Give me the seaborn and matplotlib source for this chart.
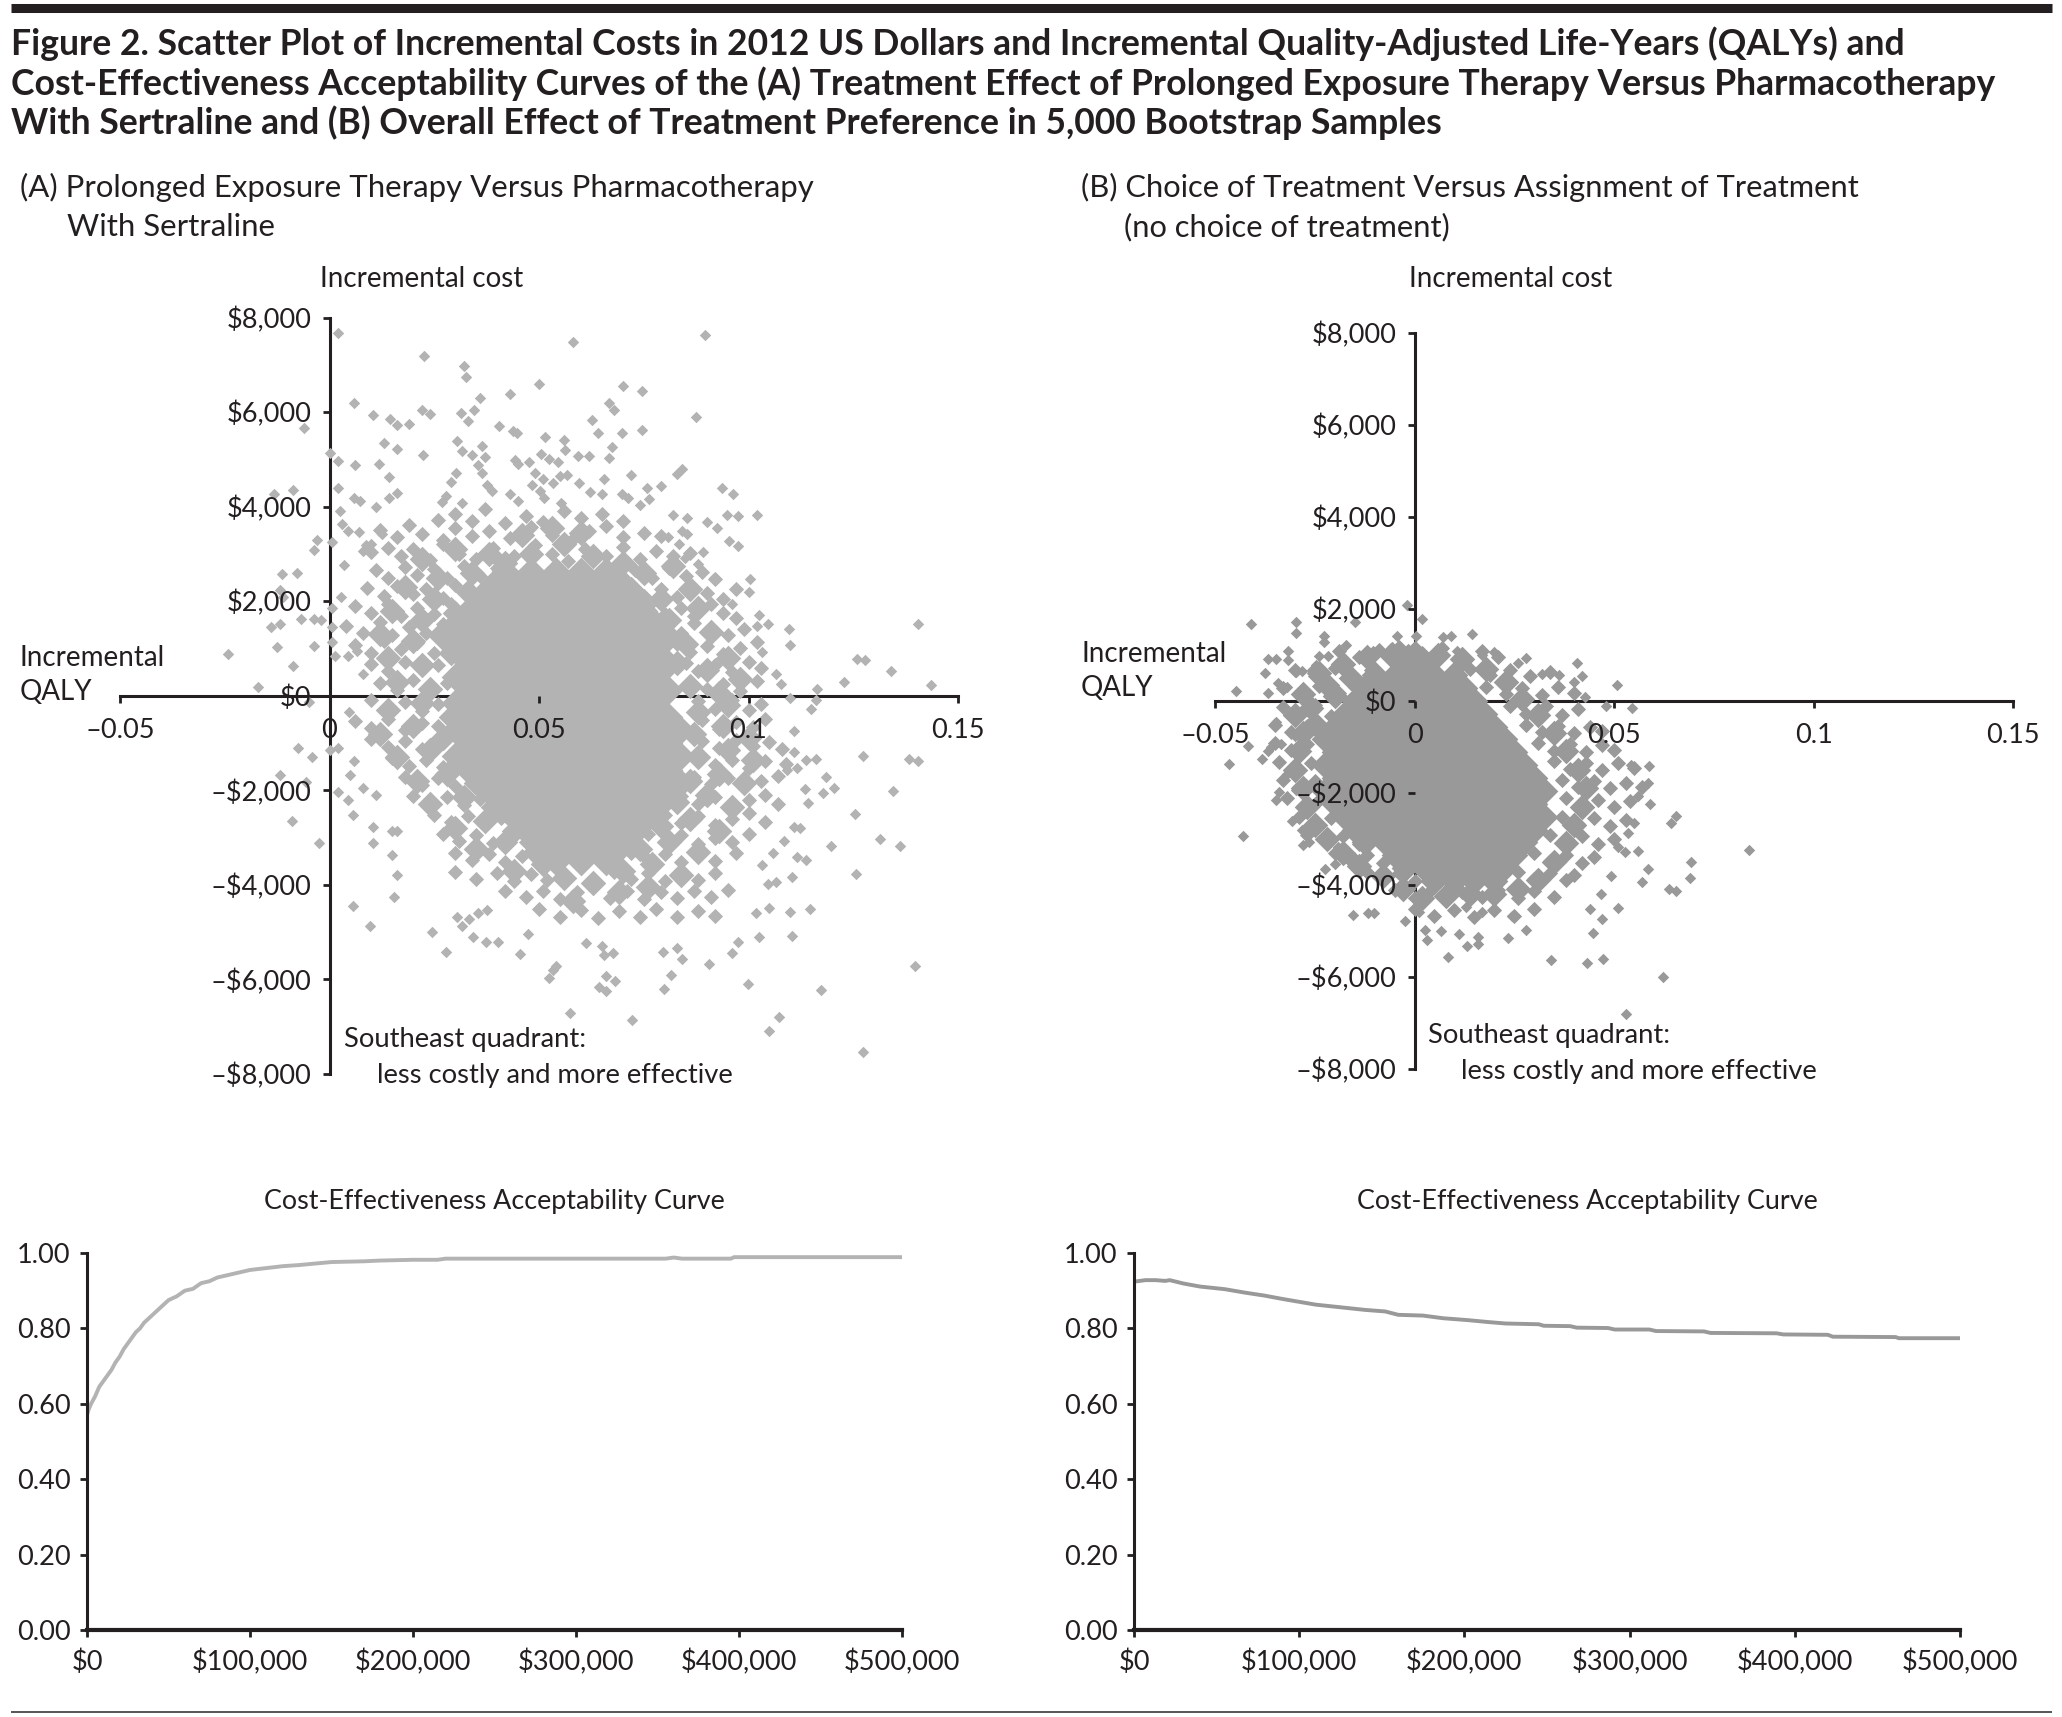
import matplotlib
matplotlib.use('Agg')
import matplotlib.pyplot as plt
import seaborn as sns
from matplotlib.lines import Line2D

sns.set_theme(style='white')
plt.rcParams['font.family'] = ['Lato', 'DejaVu Sans']

W, H = 2062, 1717
INK = '#231f20'
GREY_A = '#b3b3b3'
GREY_B = '#999999'

# Panel A, points that can be read one by one (QALY, cost)
a_upper = [(.002,7680),(.0225,7190),(.032,6970),(.0325,6750),(.058,7490),(.0896,7640),(.05,6600),(.043,6380),(.036,6300),(.07,6560),
(.0747,6450),(.0058,6190),(.022,6050),(.024,5960),(.0314,5990),(.0345,6050),(.033,5810),(.0668,6190),(.0679,6040),(.0875,5890),
(.0626,5840),(.0105,5930),(.0145,5850),(.016,5720),(.0189,5740),(-.006,5660),(.0405,5700),(.0438,5590),(.0447,5550),(.0514,5470),
(.056,5400),(.0642,5550),(.0697,5550),(.0747,5620),(.0131,5340),(.016,5210),(.0304,5380),(.0317,5170),(.0365,5290),(.034,5100),
(.037,5060),(.0224,5100),(0,5140),(.002,4960),(.006,4880),(.0119,4910),(.0443,4985),(.045,4910),(.0475,4950),(.0504,5110),
(.0523,5000),(.0546,4950),(.0563,5190),(.0592,5080),(.062,5080),(.0667,5020),(.0674,5260),(.0355,4870),(.0365,4720),(.0301,4720),
(.029,4530),(.049,4720),(.051,4590),(.055,4650),(.0568,4660),(.0534,4500),(.0654,4590),(.072,4660),(.0842,4800),(.083,4680),
(.0142,4620),(-.0132,4270),(-.0087,4360),(.002,4400),(.0377,4460),(.0388,4340),(.0484,4460),(.0502,4330),(.0595,4500),(.0758,4400),
(.079,4430),(.0936,4390),(.0963,4270),(.0058,4190),(.0073,4120),(.016,4280),(.0142,4180),(.0111,3990),(.0268,4100),(.0279,4230),
(.0317,4080),(.0431,4270),(.0449,4120),(.0511,4190),(.0553,4080),(.0621,4310),(.0651,4270),(.0697,4270),(.0712,4180),(.074,4030),
(.0763,4160),(.0024,3910),(.102,3830),(.0948,3820),(.0974,3800),(.082,3820),(.0854,3760),(.09,3680),(.0925,3540),(.0953,3270),
(.0974,3170),(.0892,3050),(.0842,3480),(.0854,3430),(.0808,3350),(.0834,3220),(.0849,2910),(.088,2780),(.0918,2500),(.1003,2460),
(.1002,2200),(.096,1950),(.1024,1710),(.1047,1520),(.1021,1480),(.1096,1420),(.11,1080),(.1032,920),(.126,780),(.1279,750),
(.1341,520),(.1405,1520),(.1435,225),(.1227,294),(.1164,143),(.11,-38),(.116,-83),(.115,-286),(.1065,467),(.1078,240),
(-.0242,880),(-.0125,1030),(-.0038,1050),(-.0087,632),(-.017,188),(-.014,1445),(-.0117,1520),(-.0068,1630),(-.0038,1630),(-.0021,1600),
(-.0117,2240),(-.0114,2575),(-.0078,2600),(-.011,2085),(-.0038,3090),(-.003,3290),(.0005,3250),(.003,3630),(.0043,3480),(.007,3460),
(.0035,2760),(.0081,3065),(.0126,3430),(.0088,3180),(.01,3200),(.0027,2085),(.0005,1860),(.0005,1445),(.0005,1145),(.0012,840),
(.0043,840),(.0065,955),(.0081,467),(-.0049,-135)]

a_lower = [(.0046,-350),(-.0076,-1110),(-.0041,-1300),(.002,-1110),(0,-1150),(.0058,-1390),(.005,-1675),(-.0117,-1675),(-.0056,-1815),(.002,-2030),
(.0043,-2200),(.0055,-2520),(-.009,-2650),(-.0026,-3120),(.0081,-1960),(.0111,-2100),(.0104,-2770),(.0105,-3120),(.0149,-2870),(.016,-2870),
(.0148,-3365),(.0161,-3800),(.0154,-4260),(.0055,-4440),(.0096,-4860),(.0245,-5000),(.0279,-5420),(.0342,-5100),(.0373,-5200),(.0402,-5200),
(.0454,-5460),(.0473,-5030),(.0304,-4670),(.0332,-4720),(.0317,-4860),(.0355,-4600),(.0377,-4530),(.054,-5720),(.0525,-5970),(.0534,-5790),
(.0575,-6710),(.0659,-5920),(.0682,-6040),(.0644,-6150),(.0659,-6250),(.0723,-6860),(.0651,-5300),(.0655,-5480),(.0677,-5440),(.0613,-5230),
(.0796,-5410),(.083,-5340),(.0842,-5570),(.0906,-5670),(.0816,-5900),(.0799,-6200),(.096,-5440),(.0974,-5200),(.1024,-5110),(.1103,-5080),
(.0998,-6090),(.1172,-6230),(.1073,-6790),(.1049,-7080),(.1274,-7530),(.1397,-5710),(.11,-4580),(.1146,-4510),(.105,-4490),(.1017,-4600),
(.1065,-3940),(.1047,-3980),(.1103,-3840),(.1256,-3770),(.1196,-3170),(.1314,-3030),(.1362,-3170),(.1253,-2500),(.1344,-2010),(.1204,-1960),
(.1177,-2060),(.1186,-1725),(.1274,-1275),(.1382,-1340),(.1405,-1380),(.1161,-1345),(.1138,-1360),(.1108,-746),(.1108,-1180),(.1116,-1535),
(.1093,-1570),(.1135,-1980),(.1143,-2270),(.1123,-2800),(.1108,-2770),(.1116,-3400),(.1138,-3470),(.1085,-3080),(.1058,-3330),(.1032,-3575)]

# Panel A, the ring round the solid centre, estimated band by band
a_ring = [(.026,3720),(.030,3850),(.034,3700),(.037,3950),(.042,3650),(.047,3800),(.051,3680),(.056,3900),(.060,3750),(.065,3840),(.070,3700),
(.012,3500),(.016,3350),(.019,3620),(.022,3420),(.027,3300),(.030,3550),(.034,3380),(.038,3480),(.043,3330),(.048,3560),(.053,3400),(.058,3310),(.062,3490),(.066,3600),(.070,3350),(.075,3440),(.079,3380),
(.010,3050),(.014,3120),(.017,2950),(.020,3100),(.024,2880),(.027,3200),(.031,3000),(.035,2900),(.039,3120),(.044,2950),(.049,3180),(.053,3000),(.057,2860),(.061,3100),(.066,2960),(.070,3140),(.074,2890),(.078,3060),(.082,2950),(.086,3010),
(.011,2650),(.014,2500),(.018,2720),(.021,2560),(.025,2680),(.028,2480),(.032,2740),(.036,2540),(.040,2700),(.044,2480),(.066,2720),(.070,2520),(.073,2660),(.077,2480),(.081,2700),(.085,2540),(.089,2610),(.092,2470),
(.009,2280),(.013,2100),(.016,2330),(.020,2150),(.023,2250),(.027,2060),(.030,2340),(.034,2170),(.038,2040),(.072,2300),(.075,2120),(.079,2250),(.083,2080),(.086,2320),(.090,2170),(.094,2040),(.097,2250),
(.006,1900),(.010,1750),(.014,1950),(.017,1680),(.021,1860),(.025,1720),(.029,1940),(.033,1780),(.076,1900),(.080,1720),(.084,1860),(.087,1680),(.091,1930),(.094,1750),(.097,1650),
(.004,1480),(.008,1330),(.012,1550),(.015,1280),(.019,1450),(.023,1320),(.027,1520),(.031,1350),(.080,1500),(.084,1330),(.087,1540),(.091,1400),(.095,1280),(.099,1420),
(.006,1080),(.010,900),(.013,1150),(.017,980),(.021,1120),(.025,900),(.028,1050),(.083,1100),(.086,920),(.090,1060),(.094,880),(.098,1020),(.102,1130),
(.010,680),(.014,520),(.018,720),(.022,560),(.026,650),(.085,700),(.088,530),(.092,640),(.096,500),(.100,710),(.103,590),
(.012,280),(.016,120),(.020,330),(.024,170),(.028,260),(.086,300),(.090,150),(.094,240),(.098,100),(.102,320),
(.010,-100),(.014,-280),(.018,-140),(.022,-320),(.026,-180),(.088,-120),(.092,-270),(.096,-90),(.100,-310),(.103,-170),
(.006,-530),(.010,-680),(.014,-500),(.018,-720),(.022,-570),(.026,-650),(.089,-510),(.093,-700),(.097,-560),(.101,-660),(.104,-500),
(.010,-920),(.014,-1080),(.018,-950),(.022,-1120),(.026,-1000),(.030,-1140),(.089,-950),(.093,-1100),(.097,-930),(.101,-1060),(.105,-980),(.108,-1120),
(.015,-1320),(.019,-1480),(.023,-1350),(.027,-1500),(.031,-1380),(.088,-1320),(.092,-1470),(.096,-1360),(.100,-1520),(.104,-1380),(.109,-1450),
(.018,-1720),(.022,-1880),(.026,-1750),(.030,-1900),(.034,-1780),(.087,-1720),(.091,-1870),(.095,-1740),(.099,-1910),(.103,-1800),(.107,-1700),
(.020,-2120),(.024,-2280),(.028,-2150),(.032,-2320),(.036,-2180),(.040,-2290),(.084,-2120),(.088,-2290),(.092,-2150),(.096,-2330),(.100,-2200),(.104,-2100),(.107,-2280),
(.025,-2520),(.029,-2680),(.033,-2550),(.037,-2720),(.041,-2590),(.045,-2700),(.080,-2520),(.084,-2690),(.088,-2550),(.092,-2730),(.096,-2600),(.100,-2480),(.104,-2680),
(.027,-2920),(.031,-3080),(.035,-2950),(.039,-3120),(.043,-2980),(.047,-3100),(.051,-2950),(.076,-2920),(.080,-3090),(.084,-2950),(.088,-3130),(.092,-3000),(.096,-3100),(.100,-2920),
(.030,-3320),(.034,-3480),(.038,-3350),(.042,-3520),(.046,-3380),(.050,-3500),(.072,-3320),(.076,-3480),(.080,-3350),(.084,-3520),(.088,-3390),(.092,-3500),(.097,-3330),
(.030,-3720),(.035,-3880),(.040,-3750),(.044,-3920),(.048,-3780),(.052,-3900),(.056,-3760),(.068,-3720),(.072,-3880),(.076,-3750),(.080,-3920),(.084,-3780),(.088,-3900),(.092,-3740),
(.042,-4120),(.047,-4260),(.051,-4130),(.055,-4300),(.059,-4160),(.063,-4050),(.067,-4280),(.071,-4120),(.075,-4300),(.079,-4150),(.083,-4280),(.087,-4120),(.091,-4260),(.095,-4100),
(.050,-4520),(.055,-4680),(.060,-4540),(.064,-4700),(.069,-4560),(.074,-4680),(.078,-4520),(.083,-4690),(.088,-4550),(.092,-4660)]

# Panel A, crowded zone between ring and centre
a_crowd = [(.022,2900),(.030,3100),(.038,3000),(.026,2500),(.034,2600),(.042,2800),(.018,2300),(.025,2050),(.033,2200),(.040,2350),
(.015,1800),(.022,1600),(.030,1750),(.037,1900),(.012,1300),(.020,1150),(.027,1350),(.034,1450),(.014,800),(.022,650),(.029,900),(.016,300),(.024,150),(.031,450),
(.048,3000),(.056,3200),(.063,2950),(.070,2800),(.046,3400),(.053,3550),(.060,3450),
(.075,2600),(.082,2750),(.072,2250),(.079,2050),(.086,2250),(.074,1800),(.081,1600),(.088,1850),(.078,1250),(.085,1100),(.091,1350),(.083,700),(.090,550),(.095,800),(.086,200),(.093,50),(.098,350),
(.014,-300),(.022,-150),(.029,-450),(.012,-800),(.020,-650),(.027,-900),(.016,-1300),(.024,-1150),(.031,-1350),(.021,-1800),(.028,-1650),(.035,-1850),(.024,-2300),(.032,-2150),(.039,-2350),
(.030,-2800),(.037,-2650),(.044,-2850),(.035,-3250),(.042,-3100),(.049,-3300),(.044,-3700),(.051,-3550),(.056,-3850),
(.088,-350),(.095,-200),(.087,-800),(.094,-650),(.100,-900),(.088,-1300),(.095,-1150),(.101,-1350),(.086,-1800),(.093,-1650),(.099,-1850),(.083,-2250),(.090,-2100),(.096,-2350),
(.079,-2750),(.086,-2600),(.093,-2850),(.074,-3250),(.081,-3100),(.088,-3300),(.070,-3700),(.077,-3550),(.084,-3800),(.063,-3950),(.069,-4150),(.076,-4050),(.058,-4350)]

# Solid centre of panel A: thousands of points overlap here, so wider diamonds stand in for them
a_core = {2640:[.042,.048,.054,.060,.066], 2360:[.039,.045,.051,.057,.063,.069], 2080:[.036,.042,.048,.054,.060,.066,.072],
1800:[.033,.039,.045,.051,.057,.063,.069,.075], 1520:[.030,.036,.042,.048,.054,.060,.066,.072,.078],
1240:[.027,.033,.039,.045,.051,.057,.063,.069,.075,.081], 960:[.030,.036,.042,.048,.054,.060,.066,.072,.078],
680:[.033,.039,.045,.051,.057,.063,.069,.075,.081], 400:[.030,.036,.042,.048,.054,.060,.066,.072,.078],
120:[.033,.039,.045,.051,.057,.063,.069,.075,.081], -160:[.030,.036,.042,.048,.054,.060,.066,.072,.078],
-440:[.033,.039,.045,.051,.057,.063,.069,.075,.081], -720:[.030,.036,.042,.048,.054,.060,.066,.072,.078,.084],
-1000:[.033,.039,.045,.051,.057,.063,.069,.075,.081], -1280:[.030,.036,.042,.048,.054,.060,.066,.072,.078,.084],
-1560:[.033,.039,.045,.051,.057,.063,.069,.075,.081], -1840:[.036,.042,.048,.054,.060,.066,.072,.078,.084],
-2120:[.039,.045,.051,.057,.063,.069,.075,.081], -2400:[.042,.048,.054,.060,.066,.072,.078],
-2680:[.045,.051,.057,.063,.069,.075], -2960:[.048,.054,.060,.066,.072], -3240:[.051,.057,.063,.069], -3520:[.054,.060,.066]}

# Panel B, points that can be read one by one
b_sparse = [(-.0019,2080),(.0018,1780),(-.041,1670),(-.0296,1716),(-.0296,1466),(-.0149,1716),(-.0227,1404),(-.0228,1287),(-.0171,1209),(-.0045,1404),
(.0003,1404),(.0072,1388),(.0091,1420),(.0145,1450),(-.0367,913),(-.0348,913),(-.0316,1092),(-.0316,897),(-.0375,600),(-.0296,624),
(-.0283,640),(-.0343,390),(-.032,296),(-.0366,172),(-.0447,218),(-.024,975),(-.0216,975),(-.0248,780),(-.0256,663),(-.0104,1092),
(-.0056,1170),(-.0016,1131),(.0407,819),(.042,546),(.0363,562),(.0399,406),(.028,936),(.026,819),(.032,585),(.0508,351),
(.0428,78),(.0546,-156),(.0479,-117),(.02,1053),(.0168,998),(.0107,1076),(-.0347,-468),(-.0299,-764),(-.0335,-936),(-.0367,-1092),
(-.0418,-975),(-.0466,-1365),(-.0383,-1264),(-.036,-1014),(-.032,-1600),(-.0339,-1973),(-.0347,-2168),(-.0296,-1950),(-.0431,-2933),(-.0308,-2613),
(-.0283,-2808),(-.0279,-3143),(-.0264,-3081),(-.0224,-3003),(-.0192,-3182),(-.0224,-3666),(-.02,-3549),(-.0152,-3393),(-.0155,-4664),(-.0117,-4625),
(-.0101,-4625),(-.0024,-4797),(.0011,-4586),(.0027,-4976),(.0032,-5203),(.0067,-5008),(.0085,-5577),(.0112,-5070),(.0131,-5327),(.016,-5288),
(.016,-5148),(.0235,-5164),(.028,-4976),(.0244,-4680),(.0168,-4602),(.0128,-4485),(.0343,-5632),(.0433,-5710),(.0473,-5616),(.0447,-5054),
(.0471,-4742),(.0511,-4508),(.0439,-4524),(.0468,-4212),(.0492,-3806),(.057,-3939),(.0586,-3650),(.0639,-4095),(.0655,-4134),(.069,-3861),
(.0692,-3510),(.0839,-3245),(.0623,-6006),(.0529,-6809),(.0642,-2652),(.0655,-2512),(.0591,-2246),(.0586,-1794),(.0588,-1420),(.0543,-1388),
(.0559,-3276),(.0527,-3292),(.0511,-3182),(.0551,-2652),(.0535,-2886),(.0559,-2067)]

# Panel B ring, estimated band by band
b_ring = [(-.019,1080),(-.014,950),(-.009,1100),(-.004,1180),(.002,1050),(.007,1150),(.012,1000),(.017,1080),(.021,950),
(-.030,680),(-.025,540),(-.020,720),(-.016,580),(-.011,680),(.010,520),(.014,700),(.019,560),(.024,680),(.029,530),(.034,620),
(-.033,280),(-.028,130),(-.024,320),(-.019,160),(-.015,290),(.018,310),(.023,150),(.027,280),(.032,130),(.036,290),(.040,170),
(-.033,-130),(-.029,-280),(-.025,-100),(-.021,-320),(.024,-120),(.028,-290),(.033,-110),(.037,-310),(.041,-170),
(-.035,-520),(-.031,-680),(-.027,-550),(-.023,-700),(.028,-520),(.032,-680),(.036,-540),(.040,-700),(.044,-570),(.047,-660),
(-.035,-920),(-.031,-1080),(-.027,-950),(.031,-920),(.035,-1090),(.039,-950),(.043,-1110),(.047,-970),(.050,-1080),
(-.034,-1330),(-.030,-1480),(-.026,-1350),(.035,-1320),(.039,-1480),(.043,-1350),(.047,-1500),(.051,-1360),(.055,-1470),
(-.033,-1720),(-.029,-1880),(-.025,-1750),(.037,-1720),(.041,-1880),(.045,-1750),(.049,-1900),(.053,-1780),(.057,-1870),
(-.032,-2120),(-.028,-2280),(-.024,-2150),(.038,-2120),(.042,-2290),(.046,-2150),(.050,-2320),(.054,-2180),
(-.029,-2520),(-.025,-2680),(-.021,-2550),(.037,-2520),(.041,-2680),(.045,-2550),(.049,-2720),(.053,-2600),
(-.027,-2920),(-.022,-3080),(-.018,-2950),(-.014,-3120),(.034,-2920),(.038,-3090),(.042,-2950),(.046,-3120),(.050,-3000),
(-.020,-3320),(-.016,-3480),(-.012,-3350),(-.008,-3520),(.030,-3320),(.034,-3480),(.038,-3350),(.042,-3520),(.045,-3400),
(-.012,-3720),(-.008,-3880),(-.004,-3750),(.000,-3920),(.026,-3720),(.030,-3880),(.034,-3750),(.038,-3900),(.040,-3780),
(-.005,-4120),(.000,-4280),(.004,-4130),(.008,-4300),(.012,-4150),(.017,-4270),(.021,-4120),(.026,-4280),(.030,-4140),(.035,-4260),
(.000,-4520),(.005,-4680),(.010,-4550),(.015,-4700),(.020,-4540),(.025,-4680),(.030,-4530)]

# Panel B, crowded zone between ring and centre
b_crowd = [(-.024,600),(-.018,800),(-.012,950),(-.028,150),(-.022,350),(-.016,500),(-.030,-300),(-.026,-150),(-.020,100),(-.028,-700),(-.025,-500),
(-.029,-1100),(-.030,-1500),(-.028,-1900),(-.027,-2300),(-.025,-2700),(-.022,-3000),(-.018,-3300),(-.014,-3600),(-.008,-3800),(-.003,-4100),
(.002,-4300),(.008,-4250),(.014,-4200),(.020,-4200),(.026,-4100),(.031,-3900),(.035,-3500),(.038,-3100),(.040,-2700),(.042,-2300),(.043,-1900),
(.041,-1500),(.038,-1100),(.035,-700),(.031,-300),(.027,50),(.023,400),(.018,700),(.012,900),(.006,1000),(0,1050),(-.006,1000)]

# Solid centre of panel B
b_core = {840:[-.0025,.0025], 560:[-.01,-.005,0,.005,.01], 280:[-.0125,-.0075,-.0025,.0025,.0075,.0125],
0:[-.015,-.01,-.005,0,.005,.01,.015], -280:[-.0175,-.0125,-.0075,-.0025,.0025,.0075,.0125,.0175],
-560:[-.02,-.015,-.01,-.005,0,.005,.01,.015,.02], -840:[-.0225,-.0175,-.0125,-.0075,-.0025,.0025,.0075,.0125,.0175,.0225],
-1120:[-.02,-.015,-.01,-.005,0,.005,.01,.015,.02,.025], -1400:[-.0225,-.0175,-.0125,-.0075,-.0025,.0025,.0075,.0125,.0175,.0225,.0275],
-1680:[-.02,-.015,-.01,-.005,0,.005,.01,.015,.02,.025,.03], -1960:[-.0225,-.0175,-.0125,-.0075,-.0025,.0025,.0075,.0125,.0175,.0225,.0275,.0325],
-2240:[-.02,-.015,-.01,-.005,0,.005,.01,.015,.02,.025,.03], -2520:[-.0175,-.0125,-.0075,-.0025,.0025,.0075,.0125,.0175,.0225,.0275,.0325],
-2800:[-.015,-.01,-.005,0,.005,.01,.015,.02,.025,.03], -3080:[-.0125,-.0075,-.0025,.0025,.0075,.0125,.0175,.0225,.0275],
-3360:[-.005,0,.005,.01,.015,.02,.025], -3640:[-.0025,.0025,.0075,.0125,.0175,.0225], -3920:[.005,.01,.015,.02]}

# Acceptability curves (willingness to pay, probability)
wtp_a = [0,1000,2500,5000,7500,10000,12500,15000,17500,20000,22500,25000,27500,30000,32500,35000,37500,40000,42500,45000,47500,50000,55000,60000,65000,70000,75000,80000,85000,90000,95000,100000,
110000,120000,130000,140000,150000,170000,180000,200000,215000,220000,300000,355000,360000,365000,395000,397000,500000]
prob_a = [.57,.585,.60,.62,.645,.66,.675,.69,.71,.725,.745,.76,.775,.79,.80,.815,.825,.835,.845,.855,.865,.875,.885,.90,.905,.92,.925,.935,.94,.945,.95,.955,
.96,.965,.968,.972,.976,.978,.98,.982,.982,.985,.985,.985,.988,.985,.985,.989,.989]
wtp_b = [0,7000,13000,19000,21600,30000,40000,55000,67000,79000,90000,102000,110000,125000,140000,152000,160000,175000,187000,202000,214000,225000,
245000,248000,264000,268000,287000,291000,312000,316000,345000,349000,389000,393000,420000,423000,461000,463000,500000]
prob_b = [.924,.928,.928,.926,.928,.919,.911,.904,.895,.887,.878,.869,.863,.856,.849,.845,.836,.834,.827,.822,.817,.813,
.811,.807,.806,.802,.801,.797,.797,.793,.792,.788,.787,.784,.783,.778,.777,.774,.774]

qaly_ticks = [-0.05, 0, 0.05, 0.1, 0.15]
qaly_labels = ['–0.05', '0', '0.05', '0.1', '0.15']
cost_ticks = [-8000, -6000, -4000, -2000, 0, 2000, 4000, 6000, 8000]
cost_labels = ['–$8,000', '–$6,000', '–$4,000', '–$2,000', '$0', '$2,000', '$4,000', '$6,000', '$8,000']
wtp_ticks = [0, 100000, 200000, 300000, 400000, 500000]
wtp_labels = ['$0', '$100,000', '$200,000', '$300,000', '$400,000', '$500,000']
prob_ticks = [0, .2, .4, .6, .8, 1]
prob_labels = ['0.00', '0.20', '0.40', '0.60', '0.80', '1.00']

fig = plt.figure(figsize=(W / 100, H / 100), dpi=100, facecolor='white')


def axes_px(left, top, right, bottom):
    return fig.add_axes([left / W, 1 - bottom / H, (right - left) / W, (bottom - top) / H], facecolor='none')


def label(x, y, text, size=22.2, ha='left', weight='normal'):
    fig.text(x / W, 1 - (y + 2) / H, text, fontsize=size, ha=ha, va='center', color=INK, weight=weight)


def dress(ax, xticks, xlabels, yticks, ylabels, xpad, ypad):
    sns.despine(ax=ax)
    for side in ['left', 'bottom']:
        ax.spines[side].set_color(INK)
    ax.set_xticks(xticks, xlabels)
    ax.set_yticks(yticks, ylabels)
    ax.set_xlabel('')
    ax.set_ylabel('')
    ax.tick_params(axis='x', bottom=True, direction='out', length=5, width=2, color=INK,
                   labelsize=19.5, labelcolor=INK, pad=xpad)
    ax.tick_params(axis='y', left=True, direction='out', length=5, width=2, color=INK,
                   labelsize=19.5, labelcolor=INK, pad=ypad)


def diamonds(ax, pts, size, colour):
    sns.scatterplot(x=[p[0] for p in pts], y=[p[1] for p in pts], marker='D', s=size, color=colour,
                    linewidth=0, zorder=3, ax=ax)


def scatter_panel(box, sparse, ring, crowd, core, colour):
    ax = axes_px(*box)
    diamonds(ax, sparse, 34, colour)
    diamonds(ax, ring, 60, colour)
    diamonds(ax, crowd, 170, colour)
    diamonds(ax, [(x, y) for y, row in core.items() for x in row], 200, colour)
    ax.set_xlim(-0.05, 0.15)
    ax.set_ylim(-8000, 8000)
    dress(ax, qaly_ticks, qaly_labels, cost_ticks, cost_labels, 11, 8)
    ax.spines['left'].set_position(('data', 0))
    ax.spines['bottom'].set_position(('data', 0))
    ax.spines['left'].set_linewidth(2.2)
    ax.spines['bottom'].set_linewidth(2.2)
    # the points cover the axis lines but the tick labels stay on top
    ax.xaxis.set_zorder(4)
    ax.yaxis.set_zorder(4)
    return ax


def curve_panel(box, wtp, prob, colour):
    ax = axes_px(*box)
    sns.lineplot(x=wtp, y=prob, color=colour, linewidth=2.8, estimator=None, ax=ax)
    ax.set_xlim(0, 500000)
    ax.set_ylim(0, 1)
    dress(ax, wtp_ticks, wtp_labels, prob_ticks, prob_labels, 9, 7)
    ax.spines['left'].set_linewidth(2.2)
    ax.spines['bottom'].set_linewidth(3)
    return ax


scatter_panel((120, 317.5, 958, 1074), a_upper + a_lower, a_ring, a_crowd, a_core, GREY_A)
scatter_panel((1215, 333, 2013, 1068.6), b_sparse, b_ring, b_crowd, b_core, GREY_B)
curve_panel((87, 1253, 902, 1630), wtp_a, prob_a, GREY_A)
curve_panel((1134, 1253, 1960, 1630), wtp_b, prob_b, GREY_B)

# rules at top and bottom of the figure
fig.add_artist(Line2D([11 / W, 2052 / W], [1 - 8.5 / H] * 2, color=INK, lw=6.5, solid_capstyle='butt'))
fig.add_artist(Line2D([11 / W, 2052 / W], [1 - 1712 / H] * 2, color='#555555', lw=1.4, solid_capstyle='butt'))

title_lines = ['Figure 2. Scatter Plot of Incremental Costs in 2012 US Dollars and Incremental Quality-Adjusted Life-Years (QALYs) and',
               'Cost-Effectiveness Acceptability Curves of the (A) Treatment Effect of Prolonged Exposure Therapy Versus Pharmacotherapy',
               'With Sertraline and (B) Overall Effect of Treatment Preference in 5,000 Bootstrap Samples']
for y, line in zip([42, 82, 121], title_lines):
    label(11, y, line, size=25.6, weight='bold')

label(20, 185, '(A) Prolonged Exposure Therapy Versus Pharmacotherapy', size=22.4)
label(67, 225, 'With Sertraline', size=22.4)
label(1081, 185, '(B) Choice of Treatment Versus Assignment of Treatment')
label(1124, 225, '(no choice of treatment)')

label(422, 277, 'Incremental cost', size=20, ha='center')
label(1511, 277, 'Incremental cost', size=20, ha='center')

label(20, 656, 'Incremental', size=20)
label(20, 690, 'QALY', size=20)
label(1081, 652, 'Incremental', size=20)
label(1081, 686, 'QALY', size=20)

label(344, 1037, 'Southeast quadrant:', size=19.7)
label(377, 1073, 'less costly and more effective', size=19.7)
label(1428, 1033, 'Southeast quadrant:', size=19.7)
label(1461, 1069, 'less costly and more effective', size=19.7)

label(494, 1200, 'Cost-Effectiveness Acceptability Curve', size=19.4, ha='center')
label(1587, 1200, 'Cost-Effectiveness Acceptability Curve', size=19.4, ha='center')

fig.savefig('out.png', dpi=100)
